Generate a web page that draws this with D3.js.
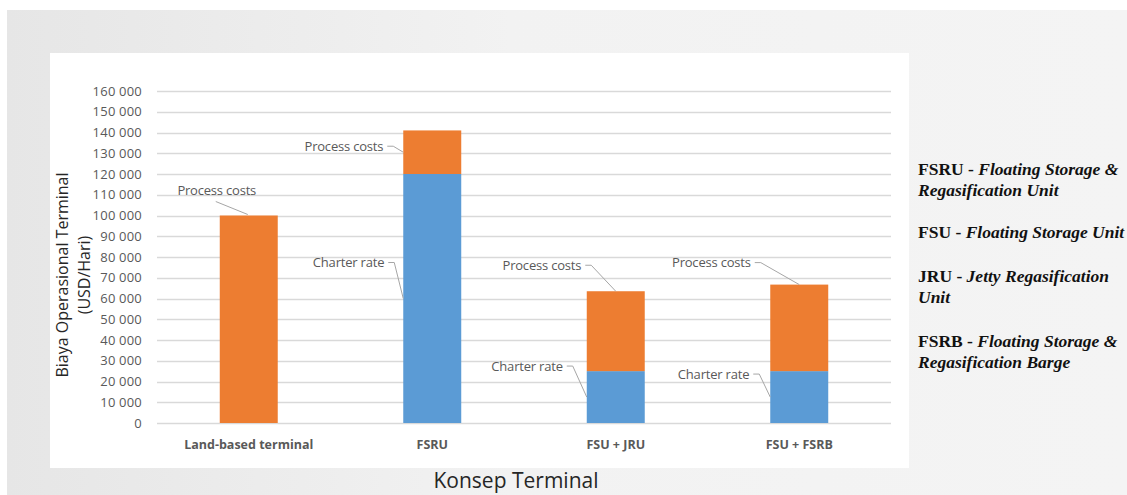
<!DOCTYPE html>
<html>
<head>
<meta charset="utf-8">
<script src="https://cdn.jsdelivr.net/npm/d3@7"></script>
<style>
  html, body { margin: 0; padding: 0; background: #ffffff; }
  svg { display: block; }
</style>
</head>
<body>
<svg id="chart" width="1127" height="495"></svg>
<script>
// Operating cost per terminal concept (USD per day)
const categories = ["Land-based terminal", "FSRU", "FSU + JRU", "FSU + FSRB"];
const charterRate = [0, 120000, 25000, 25000];
const processCosts = [100000, 21000, 38500, 41700];
const seriesNames = ["Charter rate", "Process costs"];
const yTicks = [0, 10000, 20000, 30000, 40000, 50000, 60000, 70000, 80000,
                90000, 100000, 110000, 120000, 130000, 140000, 150000, 160000];

const notes = [
  [["FSRU", "Floating Storage &"], [null, "Regasification Unit"]],
  [["FSU", "Floating Storage Unit"]],
  [["JRU", "Jetty Regasification"], [null, "Unit"]],
  [["FSRB", "Floating Storage &"], [null, "Regasification Barge"]]
];

// Data-label placement: which segment, where the leader meets it, and text offset in px
const labelLayout = [
  { cat: 0, series: 1, anchor: "top",  dx: -32,   dy: -25, centered: true },
  { cat: 1, series: 1, anchor: "left", dx: -20,   dy: -6 },
  { cat: 1, series: 0, anchor: "left", dx: -19,   dy: -36 },
  { cat: 2, series: 1, anchor: "top",  dx: -34.5, dy: -26 },
  { cat: 2, series: 0, anchor: "left", dx: -24,   dy: -31 },
  { cat: 3, series: 1, anchor: "top",  dx: -48.5, dy: -22 },
  { cat: 3, series: 0, anchor: "left", dx: -21,   dy: -23 }
];

const colors = { "Charter rate": "#5B9BD5", "Process costs": "#ED7D31" };

const svg = d3.select("#chart");

// Page backdrop
const defs = svg.append("defs");
const grad = defs.append("linearGradient").attr("id", "bg").attr("x1", 0).attr("x2", 1).attr("y1", 0).attr("y2", 0);
grad.append("stop").attr("offset", "0%").attr("stop-color", "#e6e6e6");
grad.append("stop").attr("offset", "45%").attr("stop-color", "#f2f2f2");
grad.append("stop").attr("offset", "100%").attr("stop-color", "#f4f4f4");
svg.append("rect").attr("x", 7).attr("y", 10).attr("width", 1120).attr("height", 485).attr("fill", "url(#bg)");

// Chart area
svg.append("rect").attr("x", 50).attr("y", 53).attr("width", 859).attr("height", 415).attr("fill", "#ffffff");

const x = d3.scaleBand().domain(categories).range([157, 891]).paddingInner(0.684).paddingOuter(0.342);
const y = d3.scaleLinear().domain([0, 160000]).range([423, 91]);

const locale = d3.formatLocale({ decimal: ",", thousands: " ", grouping: [3], currency: ["", ""] });
const fmt = locale.format(",");

// Gridlines + tick labels
const yAxis = d3.axisLeft(y).tickValues(yTicks).tickFormat(fmt).tickSize(0).tickPadding(0);
const gy = svg.append("g").attr("transform", "translate(142,0)").call(yAxis);
gy.select(".domain").remove();
gy.selectAll("text").attr("font-family", "'Open Sans', sans-serif").attr("font-size", 13)
  .attr("fill", "#595959").attr("letter-spacing", "0.2px");

svg.append("g").selectAll("line").data(yTicks).join("line")
  .attr("x1", 157).attr("x2", 891)
  .attr("y1", d => Math.round(y(d)) + 0.5).attr("y2", d => Math.round(y(d)) + 0.5)
  .attr("stroke", "#d9d9d9").attr("stroke-width", 1.4);

// Stacked bars
const rows = categories.map((c, i) => ({ cat: c, "Charter rate": charterRate[i], "Process costs": processCosts[i] }));
const stacked = d3.stack().keys(seriesNames)(rows);

svg.append("g").selectAll("g").data(stacked).join("g")
  .attr("fill", s => colors[s.key])
  .selectAll("rect").data(s => s).join("rect")
  .attr("x", d => x(d.data.cat))
  .attr("width", x.bandwidth())
  .attr("y", d => y(d[1]))
  .attr("height", d => y(d[0]) - y(d[1]));

// Category labels
const gx = svg.append("g").attr("transform", "translate(0,445)")
  .call(d3.axisBottom(x).tickSize(0).tickPadding(0));
gx.select(".domain").remove();
gx.selectAll("text").attr("font-family", "'Open Sans', sans-serif").attr("font-size", 12.5)
  .attr("font-weight", "bold").attr("fill", "#595959").attr("dy", "0.35em");

// Data labels with leader lines
const lbl = svg.append("g");
labelLayout.forEach(L => {
  const seg = stacked[L.series][L.cat];
  const x0 = x(categories[L.cat]);
  const ax = L.anchor === "top" ? x0 + x.bandwidth() / 2 : x0;
  const ay = L.anchor === "top" ? y(seg[1]) : (y(seg[0]) + y(seg[1])) / 2;
  const tx = ax + L.dx, ty = ay + L.dy;
  const name = seriesNames[L.series];
  lbl.append("text")
    .attr("x", tx).attr("y", ty).attr("dy", "0.35em")
    .attr("text-anchor", L.centered ? "middle" : "end")
    .attr("font-family", "'Open Sans', sans-serif").attr("font-size", 13)
    .attr("letter-spacing", "-0.2px")
    .attr("fill", "#595959").text(name);
  let pts;
  if (L.centered) {
    pts = [[tx - 1, ty + 11], [ax - 1, ay - 1]];
  } else {
    pts = [[tx + 4, ty], [tx + 10, ty], [ax, ay]];
  }
  lbl.append("path").attr("d", d3.line()(pts))
    .attr("fill", "none").attr("stroke", "#a6a6a6").attr("stroke-width", 1);
});

// Axis titles
const yt = svg.append("text")
  .attr("transform", "translate(68,275) rotate(-90)")
  .attr("text-anchor", "middle")
  .attr("font-family", "'Open Sans', sans-serif").attr("font-size", 16).attr("fill", "#262626");
yt.append("tspan").attr("x", 0).attr("dy", 0).text("Biaya Operasional Terminal");
yt.append("tspan").attr("x", 0).attr("dy", 22).text("(USD/Hari)");

svg.append("text").attr("x", 516).attr("y", 488).attr("text-anchor", "middle")
  .attr("font-family", "'Open Sans', sans-serif").attr("font-size", 21).attr("fill", "#262626")
  .text("Konsep Terminal");

// Abbreviation notes
const noteBase = [175, 238, 282, 347];
notes.forEach((block, i) => {
  block.forEach((line, j) => {
    const t = svg.append("text").attr("x", 918).attr("y", noteBase[i] + j * 21)
      .attr("font-family", "'Liberation Serif', 'DejaVu Serif', serif").attr("font-size", 17.5)
      .attr("font-weight", "bold").attr("fill", "#111");
    if (line[0]) {
      t.append("tspan").text(line[0] + " - ");
    }
    t.append("tspan").attr("font-style", "italic").text(line[1]);
  });
});
</script>
</body>
</html>
